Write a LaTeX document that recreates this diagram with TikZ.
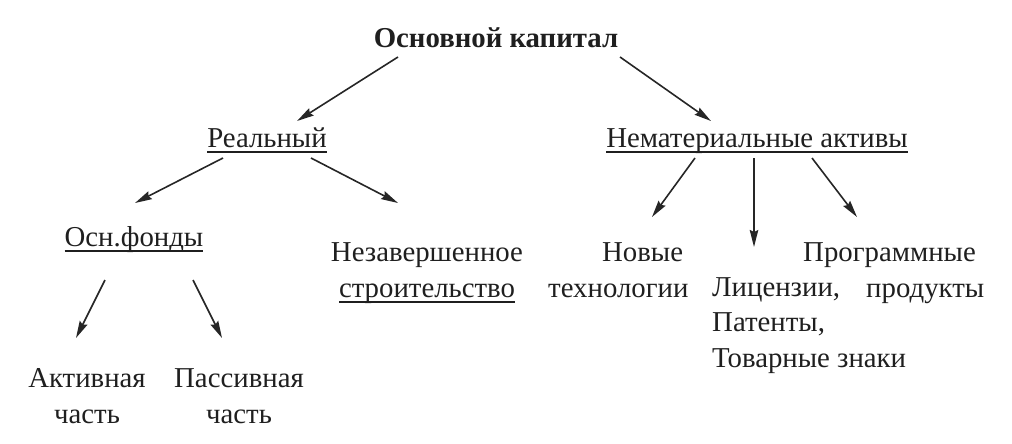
\documentclass[tikz,border=0pt]{standalone}
\usepackage{fontspec}
\setmainfont{Liberation Serif}
\usetikzlibrary{arrows.meta}
% underline sitting just under the baseline
\newcommand{\ulbox}[1]{\setbox0\hbox{#1}\rlap{\rule[-6pt]{\wd0}{2pt}}\box0}
\begin{document}
\begin{tikzpicture}[x=1pt,y=-1pt,
    lbl/.style={font=\fontsize{28.8}{35.2}\selectfont, inner sep=0pt, anchor=base, text=black!88},
    arr/.style={-{Stealth[length=17pt,width=8.5pt,inset=2pt]}, line width=1.6pt, black!85}]
    \useasboundingbox (0,0) rectangle (1012,444);

    % top level
    \node[lbl, font=\fontsize{28.8}{35.2}\selectfont\bfseries] (cap) at (496,48) {Основной капитал};
    \node[lbl] (real) at (267,147) {\ulbox{Реальный}};
    \node[lbl] (nemat) at (757,147) {\ulbox{Нематериальные активы}};

    % under Реальный (multi-line nodes sit on their last line)
    \node[lbl] (osn) at (134,246) {\ulbox{Осн.фонды}};
    \node[lbl, align=center] (nezav) at (427,297) {Незавершенное\\\ulbox{строительство}};

    % under Нематериальные активы
    \node[lbl, anchor=base west, align=left] (novye) at (548,297) {\hspace*{54pt}Новые\\технологии};
    \node[lbl, anchor=base west, align=left] (lic) at (712,367) {Лицензии,\\Патенты,\\Товарные знаки};
    \node[lbl, anchor=base west, align=left] (prog) at (803,297) {Программные\\\hspace*{63pt}продукты};

    % under Осн.фонды
    \node[lbl, align=center] (akt) at (87,423) {Активная\\часть};
    \node[lbl, align=center] (pas) at (239,423) {Пассивная\\часть};

    % arrow ends
    \coordinate (cap-l) at (398,57);
    \coordinate (cap-r) at (620,57);
    \coordinate (real-in) at (297,121);
    \coordinate (nemat-in) at (711,121);
    \coordinate (real-l) at (223,158);
    \coordinate (real-r) at (311,158);
    \coordinate (osn-in) at (135,203);
    \coordinate (nezav-in) at (398,203);
    \coordinate (nemat-l) at (695,158);
    \coordinate (nemat-m) at (754,158);
    \coordinate (nemat-r) at (812,158);
    \coordinate (novye-in) at (652,217);
    \coordinate (lic-in) at (754,247);
    \coordinate (prog-in) at (857,217);
    \coordinate (osn-l) at (105,280);
    \coordinate (osn-r) at (193,280);
    \coordinate (akt-in) at (76,338);
    \coordinate (pas-in) at (222,338);

    \draw[arr] (cap-l) -- (real-in);
    \draw[arr] (cap-r) -- (nemat-in);
    \draw[arr] (real-l) -- (osn-in);
    \draw[arr] (real-r) -- (nezav-in);
    \draw[arr] (nemat-l) -- (novye-in);
    \draw[arr] (nemat-m) -- (lic-in);
    \draw[arr] (nemat-r) -- (prog-in);
    \draw[arr] (osn-l) -- (akt-in);
    \draw[arr] (osn-r) -- (pas-in);
\end{tikzpicture}
\end{document}
